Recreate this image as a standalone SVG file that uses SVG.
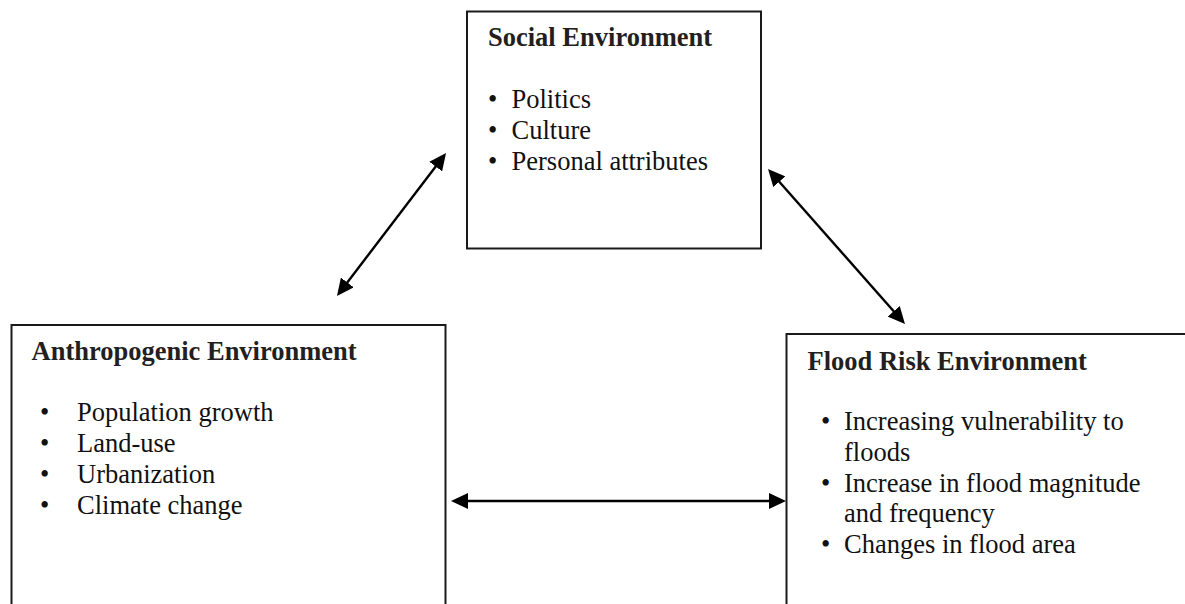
<svg xmlns="http://www.w3.org/2000/svg" width="1185" height="604" viewBox="0 0 1185 604">
  <style>
    .box { fill: #ffffff; stroke: #1a1a1a; stroke-width: 2; }
    .title { font-family: "Liberation Serif", "Times New Roman", serif; font-size: 26.5px; font-weight: bold; fill: #231f20; }
    .item { font-family: "Liberation Serif", "Times New Roman", serif; font-size: 26.5px; fill: #111111; }
    .link { stroke: #000000; stroke-width: 2.4; fill: none; marker-start: url(#head); marker-end: url(#head); }
  </style>
  <defs>
    <marker id="head" markerUnits="userSpaceOnUse" markerWidth="18" markerHeight="16" refX="11" refY="8" orient="auto-start-reverse">
      <path d="M0,0 L17,8 L0,16 z" fill="#000000"/>
    </marker>
  </defs>

  <rect width="1185" height="604" fill="#ffffff"/>

  <g id="social">
    <rect class="box" x="467" y="11.5" width="294" height="237"/>
    <text class="title" x="488" y="46">Social Environment</text>
    <text class="item" x="488" y="108">•</text>
    <text class="item" x="511.5" y="108">Politics</text>
    <text class="item" x="488" y="139">•</text>
    <text class="item" x="511.5" y="139">Culture</text>
    <text class="item" x="488" y="170">•</text>
    <text class="item" x="511.5" y="170">Personal attributes</text>
  </g>

  <g id="anthropogenic">
    <path class="box" d="M11.5,620 V325 H445.5 V620"/>
    <text class="title" x="31.5" y="360">Anthropogenic Environment</text>
    <text class="item" x="40" y="421">•</text>
    <text class="item" x="77" y="421">Population growth</text>
    <text class="item" x="40" y="452">•</text>
    <text class="item" x="77" y="452">Land-use</text>
    <text class="item" x="40" y="483">•</text>
    <text class="item" x="77" y="483">Urbanization</text>
    <text class="item" x="40" y="513.5">•</text>
    <text class="item" x="77" y="513.5">Climate change</text>
  </g>

  <g id="flood">
    <path class="box" d="M786.5,620 V334 H1200"/>
    <text class="title" x="807.5" y="370">Flood Risk Environment</text>
    <text class="item" x="821" y="429.5">•</text>
    <text class="item" x="844" y="429.5">Increasing vulnerability to</text>
    <text class="item" x="844" y="460.5">floods</text>
    <text class="item" x="821" y="491.5">•</text>
    <text class="item" x="844" y="491.5">Increase in flood magnitude</text>
    <text class="item" x="844" y="522">and frequency</text>
    <text class="item" x="821" y="553">•</text>
    <text class="item" x="844" y="553">Changes in flood area</text>
  </g>

  <g id="connectors">
    <line class="link" x1="442.4" y1="157.8" x2="340.6" y2="291.2"/>
    <line class="link" x1="772" y1="173.5" x2="901" y2="319.5"/>
    <line class="link" x1="457" y1="501" x2="780" y2="501"/>
  </g>
</svg>
